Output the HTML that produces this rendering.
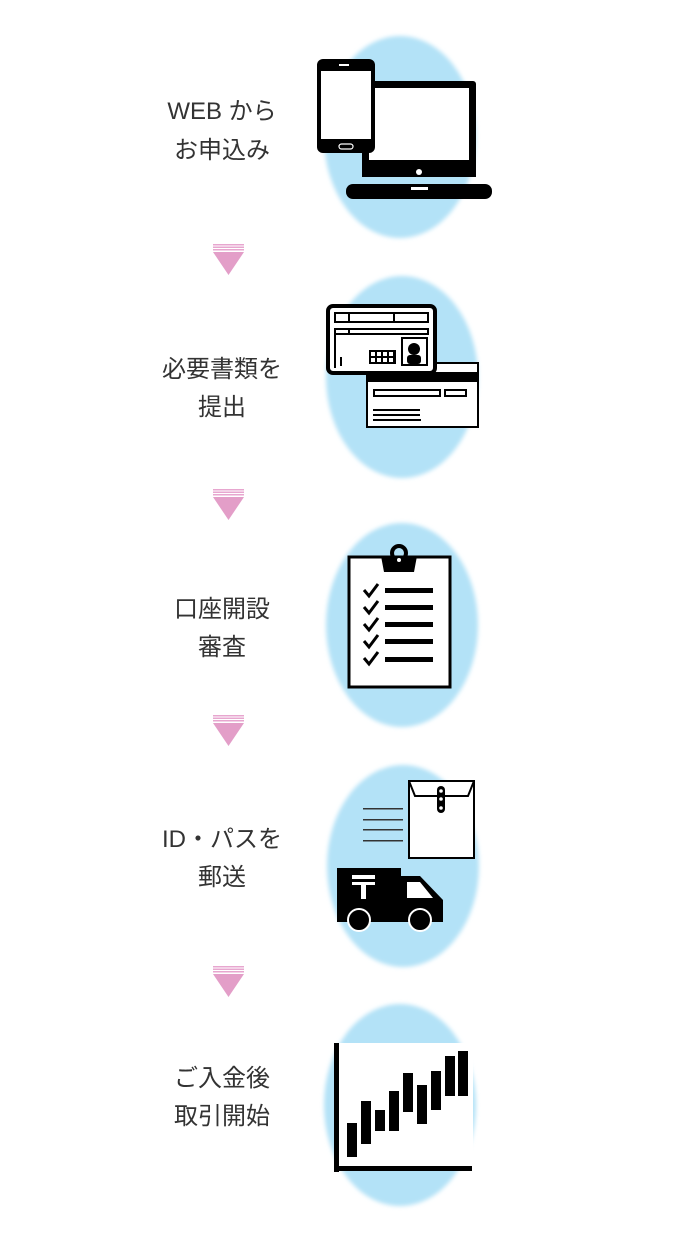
<!DOCTYPE html>
<html><head><meta charset="utf-8"><style>
html,body{margin:0;padding:0;background:#fff;}
svg{display:block}
text{font-family:"Liberation Sans","Noto Sans CJK JP",sans-serif;font-size:24px;fill:#333;text-anchor:middle}
</style></head><body>
<svg width="700" height="1234" viewBox="0 0 700 1234" xmlns="http://www.w3.org/2000/svg">
<defs>
<filter id="bl" x="-20%" y="-20%" width="140%" height="140%"><feGaussianBlur stdDeviation="2"/></filter>
<g id="arrow">
<rect x="213" y="0" width="31" height="1.5" fill="#e7a6cf"/>
<rect x="213" y="2.5" width="31" height="1.5" fill="#e7a6cf"/>
<rect x="213" y="5" width="31" height="1.5" fill="#e7a6cf"/>
<polygon points="213,8 244,8 228.5,31" fill="#e39ec8"/>
</g>
</defs>
<g fill="#b3e2f7" filter="url(#bl)">
<ellipse cx="400" cy="137" rx="76" ry="101"/>
<ellipse cx="402" cy="377" rx="76" ry="101"/>
<ellipse cx="402" cy="625" rx="76" ry="102"/>
<ellipse cx="403" cy="866" rx="76" ry="101"/>
<ellipse cx="400" cy="1105" rx="76" ry="101"/>
</g>
<text x="222" y="119">WEB から</text><text x="222" y="158">お申込み</text>
<text x="222" y="377">必要書類を</text><text x="222" y="415">提出</text>
<text x="222" y="617">口座開設</text><text x="222" y="655">審査</text>
<text x="222" y="847">ID・パスを</text><text x="222" y="885">郵送</text>
<text x="222" y="1086">ご入金後</text><text x="222" y="1124">取引開始</text>
<use href="#arrow" y="244"/>
<use href="#arrow" y="489"/>
<use href="#arrow" y="715"/>
<use href="#arrow" y="966"/>
<rect x="362" y="81" width="114" height="85" rx="3" fill="#000"/>
<rect x="369" y="88" width="100" height="72" fill="#fff"/>
<rect x="362" y="160" width="114" height="17" fill="#000"/>
<circle cx="419" cy="172" r="3" fill="#fff"/>
<rect x="346" y="184" width="146" height="15" rx="7" fill="#000"/>
<rect x="411" y="187" width="17" height="3" fill="#fff"/>
<rect x="317" y="59" width="58" height="94" rx="6" fill="#000"/>
<rect x="321" y="71" width="50" height="68" fill="#fff"/>
<rect x="339" y="64" width="10" height="2" fill="#fff"/>
<rect x="339" y="144" width="14" height="5" rx="2.5" fill="none" stroke="#fff" stroke-width="1.2"/>
<rect x="367" y="363" width="111" height="64" fill="#fff" stroke="#000" stroke-width="2"/>
<rect x="367" y="372" width="111" height="10" fill="#000"/>
<rect x="374" y="390" width="66" height="6" fill="none" stroke="#000" stroke-width="2"/>
<rect x="445" y="390" width="21" height="6" fill="none" stroke="#000" stroke-width="2"/>
<rect x="373" y="409" width="47" height="2" fill="#000"/><rect x="373" y="414" width="47" height="2" fill="#000"/><rect x="373" y="419" width="48" height="2" fill="#000"/>
<rect x="328" y="306" width="107" height="67" rx="5" fill="#fff" stroke="#000" stroke-width="4"/>
<rect x="335" y="313" width="93" height="9" fill="none" stroke="#000" stroke-width="2"/>
<line x1="349" y1="313" x2="349" y2="322" stroke="#000" stroke-width="2"/>
<line x1="394" y1="313" x2="394" y2="322" stroke="#000" stroke-width="2"/>
<rect x="335" y="329" width="93" height="5" fill="none" stroke="#000" stroke-width="2"/>
<line x1="349" y1="329" x2="349" y2="334" stroke="#000" stroke-width="2"/>
<line x1="335" y1="334" x2="335" y2="368" stroke="#000" stroke-width="2"/>
<rect x="340" y="357" width="2" height="9" fill="#000"/>
<rect x="369" y="350" width="27" height="14" fill="#000"/>
<g fill="#fff"><rect x="371" y="352" width="4" height="4"/><rect x="377" y="352" width="4" height="4"/><rect x="383" y="352" width="4" height="4"/><rect x="389" y="352" width="4" height="4"/><rect x="371" y="358" width="4" height="4"/><rect x="377" y="358" width="4" height="4"/><rect x="383" y="358" width="4" height="4"/><rect x="389" y="358" width="4" height="4"/></g>
<rect x="402" y="338" width="25" height="27" fill="#fff" stroke="#000" stroke-width="2"/>
<circle cx="414" cy="349" r="6" fill="#000"/>
<rect x="407" y="355" width="14" height="9" rx="3" fill="#000"/>
<rect x="349" y="557" width="101" height="130" fill="#fff" stroke="#000" stroke-width="3"/>
<circle cx="399" cy="553" r="7" fill="none" stroke="#000" stroke-width="4"/>
<polygon points="381,556 417,556 414,572 384,572" fill="#000"/>
<circle cx="399" cy="560" r="2" fill="#fff"/>
<g fill="#000">
<rect x="385" y="588" width="48" height="5"/><rect x="385" y="605" width="48" height="5"/><rect x="385" y="622" width="48" height="5"/><rect x="385" y="639" width="48" height="5"/><rect x="385" y="657" width="48" height="5"/>
</g>
<g fill="none" stroke="#000" stroke-width="3">
<polyline points="364,590 369,596 378,584"/><polyline points="364,607 369,613 378,601"/><polyline points="364,624 369,630 378,618"/><polyline points="364,641 369,647 378,635"/><polyline points="364,658 369,664 378,652"/>
</g>
<rect x="409" y="781" width="65" height="77" fill="#fff" stroke="#000" stroke-width="2"/>
<polyline points="409,781 415,796 468,796 474,781" fill="none" stroke="#000" stroke-width="2"/>
<rect x="437" y="786" width="8" height="27" rx="4" fill="#000"/>
<circle cx="441" cy="791" r="1.8" fill="#fff"/><circle cx="441" cy="799" r="1.8" fill="#fff"/><circle cx="441" cy="808" r="1.8" fill="#fff"/>
<g fill="#333"><rect x="363" y="808" width="40" height="1.5"/><rect x="363" y="819" width="40" height="1.5"/><rect x="363" y="829" width="40" height="1.5"/><rect x="363" y="840" width="40" height="1.5"/></g>
<path d="M337,868 H401 V876 H420 L443,900 V922 H337 Z" fill="#000"/>
<polygon points="407,882 420,882 433,898 407,898" fill="#fff"/>
<rect x="352" y="875" width="23" height="4" fill="#fff"/><rect x="352" y="882" width="23" height="3" fill="#fff"/><rect x="361" y="885" width="5" height="14" fill="#fff"/>
<circle cx="359" cy="920" r="11" fill="#000" stroke="#fff" stroke-width="2"/>
<circle cx="420" cy="920" r="11" fill="#000" stroke="#fff" stroke-width="2"/>
<rect x="336" y="1043" width="137" height="124" fill="#fff"/>
<rect x="334" y="1043" width="5" height="129" fill="#000"/>
<rect x="334" y="1166" width="138" height="5" fill="#000"/>
<g fill="#000">
<rect x="347" y="1123" width="10" height="34"/><rect x="361" y="1101" width="10" height="43"/><rect x="375" y="1110" width="10" height="21"/><rect x="389" y="1091" width="10" height="40"/><rect x="403" y="1073" width="10" height="39"/><rect x="417" y="1085" width="10" height="39"/><rect x="431" y="1071" width="10" height="39"/><rect x="445" y="1056" width="10" height="40"/><rect x="458" y="1051" width="10" height="45"/>
</g>
</svg>
</body></html>
